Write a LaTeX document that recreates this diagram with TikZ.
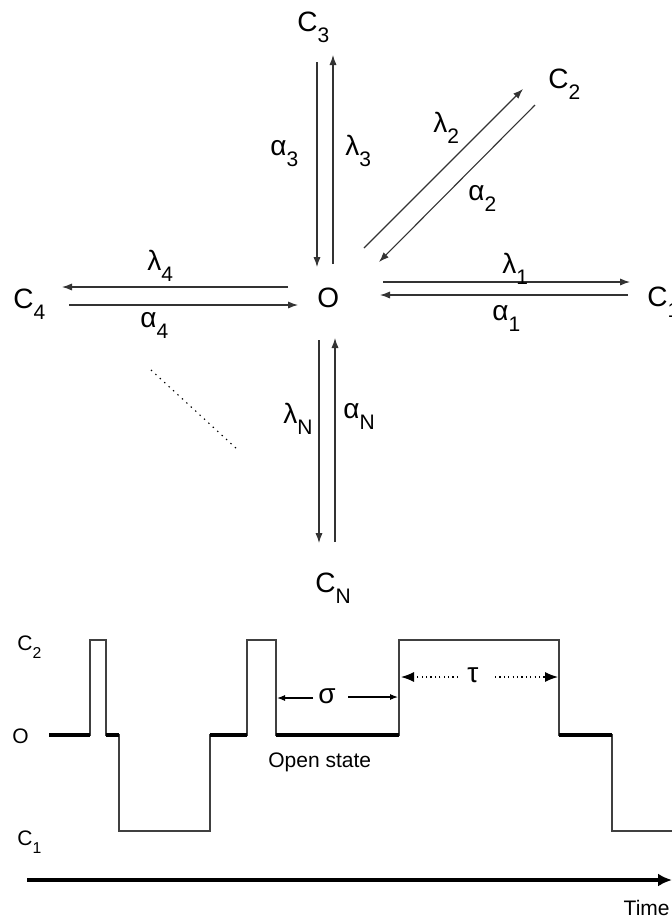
\documentclass[tikz,border=0pt]{standalone}
\usepackage{fontspec}
\usepackage{graphicx}
\setmainfont{Liberation Sans}
\usetikzlibrary{arrows.meta, calc}

\newcommand{\sbs}[1]{\raisebox{-0.4em}{\scalebox{0.75}{#1}}}

\begin{document}
\begin{tikzpicture}[
    x=0.5pt, y=-0.5pt,
    >={Latex[length=5pt, width=3.6pt]},
    % estilos del esquema de estados
    state/.style={inner sep=0pt, anchor=base west, font=\fontsize{14}{16}\selectfont},
    rate/.style={inner sep=0pt, anchor=base west, font=\fontsize{14}{16}\selectfont},
    trans/.style={->, line width=0.55pt, black!80},
    % estilos del registro temporal
    level/.style={inner sep=0pt, anchor=base west, font=\fontsize{10.5}{12}\selectfont},
    trace/.style={line width=0.55pt, black!75},
    openseg/.style={line width=2.2pt, black},
    span/.style={->, line width=0.55pt, >={Latex[length=4pt, width=3pt]}},
    dwell/.style={->, line width=0.6pt, dash pattern=on 0.6pt off 1.6pt, >={Latex[length=6.5pt, width=5pt]}},
]
\useasboundingbox (0,0) rectangle (672,922);

% -------------------------
% Esquema de estados
% -------------------------
\node[state] (O)  at (317,307) {O};
\node[state] (C3) at (297,31)  {C\sbs{3}};
\node[state] (C2) at (548,88)  {C\sbs{2}};
\node[state] (C1) at (647,306) {C\sbs{1}};
\node[state] (C4) at (13,308)  {C\sbs{4}};
\node[state] (CN) at (315,592) {C\sbs{N}};

% transiciones
\draw[trans] ($(C3.base west)+(20,31)$) -- ($(O.base west)+(0,-40)$);
\draw[trans] ($(O.base west)+(16,-43)$) -- ($(C3.base west)+(36,24)$);
\draw[trans] ($(O.base west)+(47,-59)$) -- ($(C2.base west)+(-25,1)$);
\draw[trans] ($(C2.base west)+(-13,17)$) -- ($(O.base west)+(62,-45)$);
\draw[trans] ($(O.base west)+(66,-25)$) -- ($(C1.base west)+(-17,-24)$);
\draw[trans] ($(C1.base west)+(-19,-11)$) -- ($(O.base west)+(63,-12)$);
\draw[trans] ($(O.base west)+(-29,-20)$) -- ($(C4.base west)+(49,-21)$);
\draw[trans] ($(C4.base west)+(56,-3)$) -- ($(O.base west)+(-19,-2)$);
\draw[trans] ($(O.base west)+(2,33)$) -- ($(CN.base west)+(4,-49)$);
\draw[trans] ($(CN.base west)+(20,-50)$) -- ($(O.base west)+(18,31)$);

% tasas
\node[rate] (a3) at (270,155) {α\sbs{3}};
\node[rate] (l3) at (345,155) {λ\sbs{3}};
\node[rate] (l2) at (433,132) {λ\sbs{2}};
\node[rate] (a2) at (468,200) {α\sbs{2}};
\node[rate] (l1) at (502,273) {λ\sbs{1}};
\node[rate] (a1) at (492,320) {α\sbs{1}};
\node[rate] (l4) at (147,270) {λ\sbs{4}};
\node[rate] (a4) at (140,327) {α\sbs{4}};
\node[rate] (lN) at (283,423) {λ\sbs{N}};
\node[rate] (aN) at (343,418) {α\sbs{N}};

% otros estados
\draw[line width=0.55pt, dash pattern=on 0.7pt off 2.3pt] (151,370) -- (238,450);

% -------------------------
% Registro temporal
% -------------------------
\node[level] (lvC2) at (17,650) {C\sbs{2}};
\node[level] (lvO)  at (12,743) {O};
\node[level] (lvC1) at (17,845) {C\sbs{1}};

\draw[trace] (49,735) -- (90,735) -- (90,640) -- (106,640) -- (106,735) -- (119,735)
    -- (119,831) -- (210,831) -- (210,735) -- (247,735) -- (247,640) -- (276,640)
    -- (276,735) -- (399,735) -- (399,640) -- (559,640) -- (559,735) -- (612,735)
    -- (612,831) -- (672,831);

% estado abierto
\foreach \xa/\xb in {49/90, 106/119, 210/247, 276/399, 559/612}
    \draw[openseg] (\xa,735) -- (\xb,735);

\node[level] (open) at (268,767) {Open state};

% sigma y tau
\node[inner sep=1pt, font=\fontsize{14}{16}\selectfont] (sigma) at (327,696) {σ};
\draw[span] (313,698) -- (277,698);
\draw[span] (348,697) -- (398,697);
\node[inner sep=1pt, font=\fontsize{14}{16}\selectfont] (tau) at (473,675) {τ};
\draw[dwell] (458,677) -- (401,677);
\draw[dwell] (495,677) -- (558,677);

% eje de tiempo
\coordinate (t0) at (27,880);
\coordinate (t1) at (672,880);
\draw[->, line width=2pt, >={Latex[length=7pt, width=6.5pt]}] (t0) -- (t1);
\node[inner sep=0pt, anchor=base east, font=\fontsize{10.5}{12}\selectfont] (time) at (670,915) {Time};

\end{tikzpicture}
\end{document}
